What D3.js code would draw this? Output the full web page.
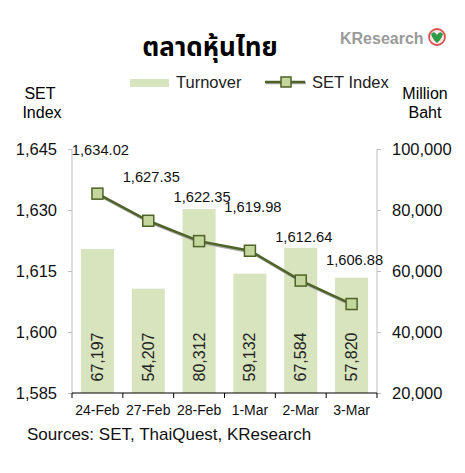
<!DOCTYPE html>
<html>
<head>
<meta charset="utf-8">
<script src="https://cdn.jsdelivr.net/npm/d3@7"></script>
<style>
  body { margin: 0; background: #fff; }
  svg { font-family: "Liberation Sans", Arial, sans-serif; }
</style>
</head>
<body>
<div id="chart"></div>
<script>
"use strict";

// Values.
let dates = ["24-Feb", "27-Feb", "28-Feb", "1-Mar", "2-Mar", "3-Mar"];
let turnover = [67197, 54207, 80312, 59132, 67584, 57820];
let setIndex = [1634.02, 1627.35, 1622.35, 1619.98, 1612.64, 1606.88];
let leftTicks = [1585, 1600, 1615, 1630, 1645];
let rightTicks = [20000, 40000, 60000, 80000, 100000];

let width = 465, height = 473;
let plotLeft = 72, plotRight = 377, plotTop = 149, plotBottom = 393;

let barColour = "#d7e4bd";
let lineColour = "#4f6228";
let markerFill = "#c3d69b";
let axisGrey = "#bfbfbf";

let svg = d3.select("#chart").append("svg")
  .attr("width", width)
  .attr("height", height);

let x = d3.scaleBand().domain(dates).range([plotLeft, plotRight]).paddingInner(0.35).paddingOuter(0.175);
let yLeft = d3.scaleLinear().domain([1585, 1645]).range([plotBottom, plotTop]);
let yRight = d3.scaleLinear().domain([20000, 100000]).range([plotBottom, plotTop]);
let fmt = d3.format(",");
let fmt2 = d3.format(",.2f");

// Title and logo
svg.append("text")
  .attr("x", 210).attr("y", 56)
  .attr("text-anchor", "middle")
  .style("font-size", "26px").style("font-weight", "bold")
  .style("font-family", "'Noto Sans Thai', 'Noto Sans', 'DejaVu Sans', sans-serif")
  .text("ตลาดหุ้นไทย");

svg.append("text")
  .attr("x", 340).attr("y", 44)
  .style("font-size", "16px").style("font-weight", "bold")
  .style("fill", "#9a9a9a")
  .text("KResearch");
svg.append("circle").attr("cx", 437).attr("cy", 37).attr("r", 8)
  .style("fill", "#fbe9e9").style("stroke", "#d9534f").style("stroke-width", 1.8);
svg.append("path").attr("d", "M431,34 Q434,30 437,35 Q440,30 443,34 Q441,40 437,43 Q433,40 431,34 Z")
  .style("fill", "#2e9a46");

// Legend
svg.append("rect").attr("x", 130).attr("y", 79).attr("width", 39).attr("height", 8)
  .style("fill", barColour);
svg.append("text").attr("x", 176).attr("y", 88).style("font-size", "16.5px").style("fill", "#222").text("Turnover");
svg.append("line").attr("x1", 266).attr("x2", 306).attr("y1", 83).attr("y2", 83)
  .style("stroke", "#a8a8a8").style("stroke-width", 2.5);
svg.append("line").attr("x1", 265).attr("x2", 305).attr("y1", 82).attr("y2", 82)
  .style("stroke", lineColour).style("stroke-width", 2.5);
svg.append("rect").attr("x", 281).attr("y", 77).attr("width", 10).attr("height", 10)
  .style("fill", markerFill).style("stroke", lineColour).style("stroke-width", 1.5);
svg.append("text").attr("x", 312).attr("y", 88).style("font-size", "16.5px").style("fill", "#222").text("SET Index");

// Axis titles
[["SET", 40, 99], ["Index", 42, 118]].forEach(t => {
  svg.append("text").attr("x", t[1]).attr("y", t[2]).attr("text-anchor", "middle")
    .style("font-size", "16px").text(t[0]);
});
[["Million", 425, 99], ["Baht", 425, 118]].forEach(t => {
  svg.append("text").attr("x", t[1]).attr("y", t[2]).attr("text-anchor", "middle")
    .style("font-size", "16px").text(t[0]);
});

// Bars
svg.selectAll("rect.bar")
  .data(turnover)
  .enter().append("rect")
  .attr("class", "bar")
  .attr("x", (d, i) => x(dates[i]))
  .attr("y", d => yRight(d))
  .attr("width", x.bandwidth())
  .attr("height", d => plotBottom - yRight(d))
  .style("fill", barColour);

// Bar labels, rotated
svg.selectAll("text.barLabel")
  .data(turnover)
  .enter().append("text")
  .attr("class", "barLabel")
  .attr("transform", (d, i) => `translate(${x(dates[i]) + x.bandwidth() / 2 + 5.5},357) rotate(-90)`)
  .attr("text-anchor", "middle")
  .style("font-size", "16px").style("fill", "#222")
  .text(d => fmt(d));

// Axes
let leftAxis = d3.axisLeft(yLeft).tickValues(leftTicks).tickFormat(fmt).tickSize(4).tickPadding(11);
let gl = svg.append("g").attr("transform", `translate(${plotLeft},0)`).call(leftAxis);
let rightAxis = d3.axisRight(yRight).tickValues(rightTicks).tickFormat(fmt).tickSize(4).tickPadding(11);
let gr = svg.append("g").attr("transform", `translate(${plotRight},0)`).call(rightAxis);
[gl, gr].forEach(g => {
  g.select(".domain").remove();
  g.append("line").attr("y1", plotTop).attr("y2", plotBottom).style("stroke", axisGrey);
  g.selectAll(".tick line").style("stroke", axisGrey);
  g.selectAll(".tick text").style("font-size", "16.5px").style("fill", "#111")
    .style("font-family", "'Liberation Sans', Arial, sans-serif");
});

let step = x.step();
let gb = svg.append("g").attr("transform", `translate(0,${plotBottom})`);
gb.append("line").attr("x1", plotLeft).attr("x2", plotRight).style("stroke", "#000").style("stroke-width", 1.2);
gb.selectAll("line.tk")
  .data(d3.range(dates.length + 1))
  .enter().append("line")
  .attr("class", "tk")
  .attr("x1", i => plotLeft + i * step).attr("x2", i => plotLeft + i * step)
  .attr("y1", 0).attr("y2", 5)
  .style("stroke", "#000");
gb.selectAll("text")
  .data(dates)
  .enter().append("text")
  .attr("x", d => x(d) + x.bandwidth() / 2)
  .attr("y", 22)
  .attr("text-anchor", "middle")
  .style("font-size", "14px").style("fill", "#111")
  .text(d => d);

// SET Index line with its soft shadow
let line = d3.line()
  .x((d, i) => x(dates[i]) + x.bandwidth() / 2)
  .y(d => yLeft(d));
svg.append("path").datum(setIndex).attr("d", line)
  .attr("transform", "translate(1.2,1.5)")
  .style("fill", "none").style("stroke", "#a8a8a8").style("stroke-width", 2.5);
svg.append("path").datum(setIndex).attr("d", line)
  .style("fill", "none").style("stroke", lineColour).style("stroke-width", 2.5);

svg.selectAll("rect.marker")
  .data(setIndex)
  .enter().append("rect")
  .attr("class", "marker")
  .attr("x", (d, i) => x(dates[i]) + x.bandwidth() / 2 - 5.5)
  .attr("y", d => yLeft(d) - 5.5)
  .attr("width", 11).attr("height", 11)
  .style("fill", markerFill).style("stroke", lineColour).style("stroke-width", 1.5);

svg.selectAll("text.lineLabel")
  .data(setIndex)
  .enter().append("text")
  .attr("class", "lineLabel")
  .attr("x", (d, i) => x(dates[i]) + x.bandwidth() / 2 + 3)
  .attr("y", d => yLeft(d) - 39)
  .attr("text-anchor", "middle")
  .style("font-size", "14.7px").style("fill", "#111")
  .text(d => fmt2(d));

// Source note
svg.append("text").attr("x", 27).attr("y", 440)
  .style("font-size", "17px").style("fill", "#111")
  .text("Sources: SET, ThaiQuest, KResearch");
</script>
</body>
</html>
